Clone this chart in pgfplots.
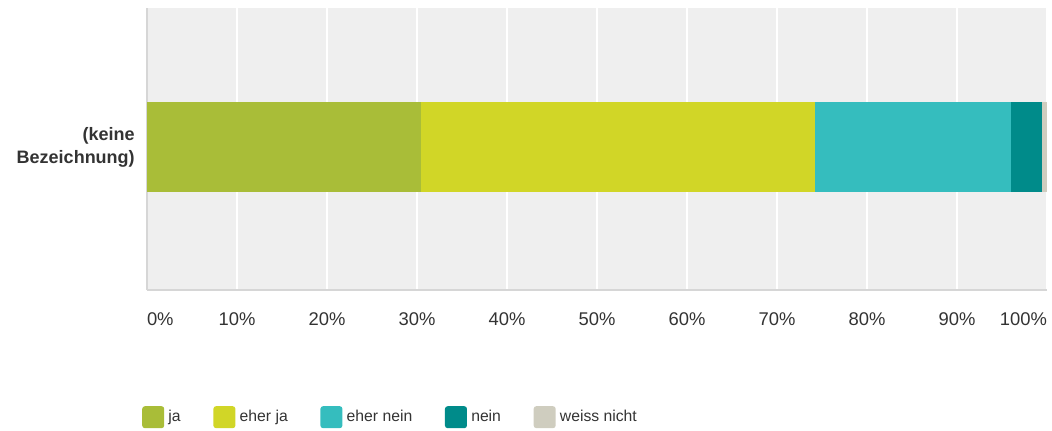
\documentclass[border=0pt]{standalone}
\usepackage{fontspec}
\setmainfont{Liberation Sans}
\usepackage{xcolor}
\usepackage{pgfplots}
\pgfplotsset{compat=1.18}

\definecolor{cja}{HTML}{A9BD38}
\definecolor{ceherja}{HTML}{D1D627}
\definecolor{cehernein}{HTML}{35BDBE}
\definecolor{cnein}{HTML}{008B8A}
\definecolor{cweiss}{HTML}{CFCDBF}
\definecolor{bg}{HTML}{EFEFEF}
\definecolor{linegray}{HTML}{D6D6D6}
\definecolor{txt}{HTML}{333333}

\begin{document}
\begin{tikzpicture}
\useasboundingbox (0,0) rectangle (789pt,322.5pt);
\begin{axis}[
  at={(110.25pt,105pt)}, anchor=south west,
  scale only axis, width=675pt, height=211.5pt,
  xbar stacked, bar width=67.5pt,
  xmin=0, xmax=100, ymin=-1.014, ymax=0.986,
  enlarge x limits=false,
  axis background/.style={fill=bg},
  axis lines*=left,
  axis line style={draw=linegray, line width=1.8pt},
  major tick length=0pt,
  /pgf/number format/assume math mode=true,
  xtick={0,10,...,100},
  xmajorgrids, grid style={white, line width=1.5pt},
  xticklabel={\ifnum\ticknum=0 \makebox[0pt][l]{\pgfmathprintnumber{\tick}\%}\else\ifnum\ticknum=10 \makebox[0pt][r]{\pgfmathprintnumber{\tick}\%}\else\pgfmathprintnumber{\tick}\%\fi\fi},
  xticklabel style={font=\fontsize{13.8}{16}\selectfont, text=txt, anchor=north, inner sep=0pt, yshift=-17pt},
  ytick={0}, yticklabels={{(keine\\Bezeichnung)}},
  yticklabel style={font=\fontsize{13.5}{17.25}\selectfont\bfseries, text=txt, align=right, anchor=east, inner sep=0pt, xshift=-9pt},
  legend columns=5,
  legend image code/.code={\path[#1, draw=none, rounded corners=2pt] (0pt,-8.25pt) rectangle (16.5pt,8.25pt);},
  legend style={at={(axis description cs:-0.0056,-0.451)}, anchor=west, draw=none, fill=none, inner sep=0pt,
    font=\fontsize{11.8}{14}\selectfont, text=txt,
    /tikz/every odd column/.append style={column sep=1.2pt},
    /tikz/every even column/.append style={column sep=22.5pt}},
]
\addplot[fill=cja, draw=none] coordinates {(30.4,0)};
\addplot[fill=ceherja, draw=none] coordinates {(43.8,0)};
\addplot[fill=cehernein, draw=none] coordinates {(21.8,0)};
\addplot[fill=cnein, draw=none] coordinates {(3.4,0)};
\addplot[fill=cweiss, draw=none] coordinates {(0.6,0)};
\legend{ja, eher ja, eher nein, nein, weiss nicht}
\end{axis}
\end{tikzpicture}
\end{document}
